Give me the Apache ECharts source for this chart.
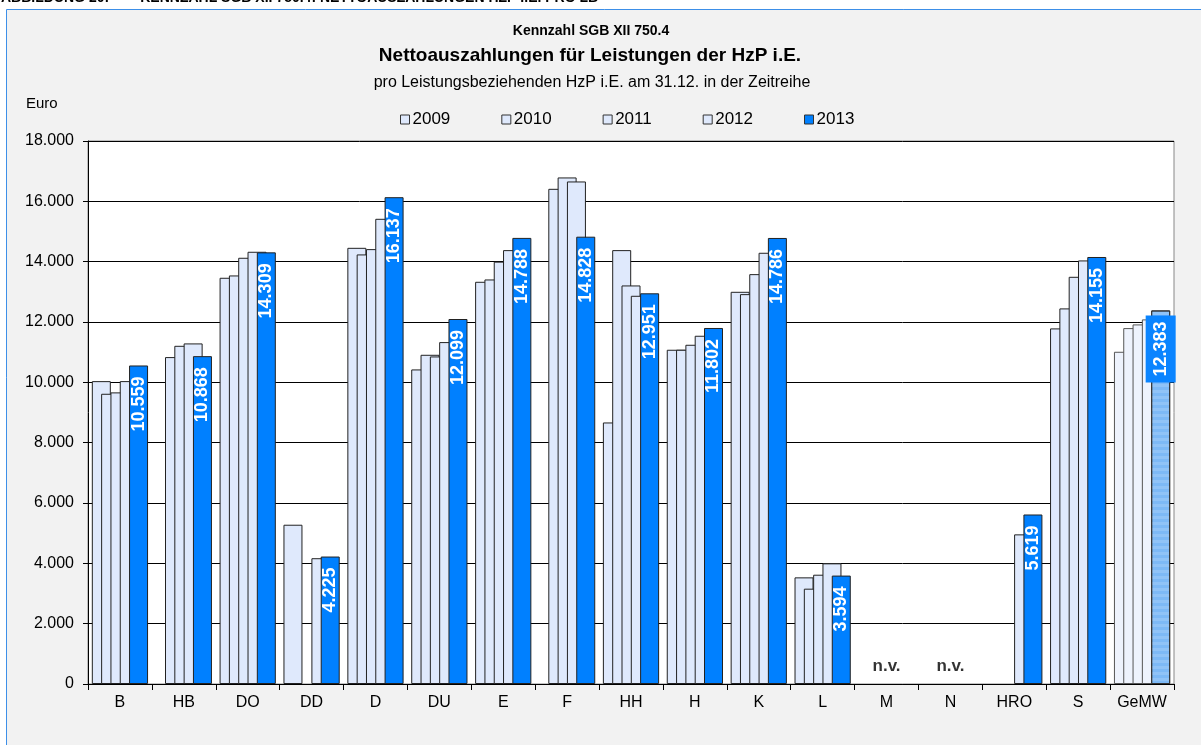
<!DOCTYPE html>
<html>
<head>
<meta charset="utf-8">
<script src="https://cdn.jsdelivr.net/npm/echarts@6/dist/echarts.min.js"></script>
<style>
  html, body { margin: 0; padding: 0; background: #fff; }
  #chart { width: 1201px; height: 745px; }
</style>
</head>
<body>
<div id="chart"></div>
<script>
var regions = ['B', 'HB', 'DO', 'DD', 'D', 'DU', 'E', 'F', 'HH', 'H', 'K', 'L', 'M', 'N', 'HRO', 'S', 'GeMW'];
var years = ['2009', '2010', '2011', '2012', '2013'];

var v2009 = [10040, null, 13466, 5280, 14459, 10428, 13333, null, 8670, 11080, 13001, 3535, null, null, null, 11788, 11013];
var v2010 = [9621, 10837, 13543, null, 14240, 10913, 13410, 16415, 14383, 11080, 12924, 3160, null, null, null, 12451, 11798];
var v2011 = [9667, 11211, 14129, null, 14416, 10858, 14000, 16792, 13212, 11245, 13587, 3623, null, null, null, 13498, 11920];
var v2012 = [10041, 11290, 14328, 4170, 15421, 11334, 14383, 16659, 12869, 11544, 14295, 4000, null, null, 4960, 14041, 12086];
var v2013 = [10559, 10868, 14309, 4225, 16137, 12099, 14788, 14828, 12951, 11802, 14786, 3594, null, null, 5619, 14155, 12383];

var notAvailable = [null, null, null, null, null, null, null, null, null, null, null, null, 'n.v.', 'n.v.', null, null, null];

var yTicks = { min: 0, max: 18000, interval: 2000 };

function fmt(v) {
    return String(Math.round(v)).replace(/\B(?=(\d{3})+(?!\d))/g, '.');
}

var lightColor = '#dfe9fc';
var darkColor = '#0080ff';

function buildData(values, isLast) {
    return values.map(function (v, i) {
        if (regions[i] !== 'GeMW') return v;
        if (!isLast) {
            return { value: v, itemStyle: { color: '#eef3fd', borderColor: '#555' } };
        }
        return {
            value: v,
            itemStyle: {
                color: '#7db9f6',
                borderColor: '#333',
                decal: { symbol: 'rect', dashArrayX: [1, 0], dashArrayY: [3, 3], color: 'rgba(255,255,255,0.15)', rotation: 0 }
            },
            label: { backgroundColor: '#0a84ff', padding: [6, 6, 6, 6], distance: 5 }
        };
    });
}

var allValues = [v2009, v2010, v2011, v2012, v2013];
var series = years.map(function (y, idx) {
    var isLast = idx === years.length - 1;
    var s = {
        name: y,
        type: 'bar',
        barWidth: 19,
        barGap: '-51%',
        data: buildData(allValues[idx], isLast),
        itemStyle: {
            color: isLast ? darkColor : lightColor,
            borderColor: '#222',
            borderWidth: 1
        }
    };
    if (isLast) {
        s.label = {
            show: true,
            position: 'insideTop',
            rotate: 90,
            align: 'right',
            verticalAlign: 'middle',
            distance: 11,
            color: '#fff',
            fontFamily: 'Liberation Sans, Arial',
            fontWeight: 'bold',
            fontSize: 18,
            formatter: function (p) { return fmt(p.value); }
        };
    }
    return s;
});

series.push({
    name: 'nv',
    type: 'scatter',
    symbolSize: 0,
    data: notAvailable.map(function (t) { return t ? 0 : null; }),
    label: {
        show: true,
        position: 'top',
        distance: 9,
        color: '#000',
        fontFamily: 'Liberation Sans, Arial',
        fontWeight: 'bold',
        fontSize: 17,
        formatter: function (p) { return notAvailable[p.dataIndex]; }
    },
    silent: true,
    z: 5
});

var myChart = echarts.init(document.getElementById('chart'));
var option = {
    animation: false,
    textStyle: { fontFamily: 'Liberation Sans, Arial' },
    graphic: [
        {
            type: 'text', left: 1, top: -9,
            style: { text: 'ABBILDUNG 20:        KENNZAHL SGB XII 750.4: NETTOAUSZAHLUNGEN HZP I.E. PRO LB', font: 'bold 14px Liberation Sans', fill: '#000' }
        },
        {
            type: 'rect', left: 6, top: 9, z: -10,
            shape: { width: 1210, height: 750 },
            style: { fill: '#f2f2f2', stroke: '#3d8fe8', lineWidth: 1 }
        },
        {
            type: 'text', left: 26, top: 96,
            style: { text: 'Euro', font: '15px Liberation Sans', fill: '#000' }
        }
    ],
    title: [
        {
            text: 'Kennzahl SGB XII 750.4', left: 586, top: 19, textAlign: 'center',
            textStyle: { fontSize: 14, fontWeight: 'bold', color: '#000', fontFamily: 'Liberation Sans' }
        },
        {
            text: 'Nettoauszahlungen für Leistungen der HzP i.E.', left: 585, top: 41, textAlign: 'center',
            textStyle: { fontSize: 19, fontWeight: 'bold', color: '#000', fontFamily: 'Liberation Sans' }
        },
        {
            text: 'pro Leistungsbeziehenden HzP i.E. am 31.12. in der Zeitreihe', left: 587, top: 70, textAlign: 'center',
            textStyle: { fontSize: 16, fontWeight: 'normal', color: '#000', fontFamily: 'Liberation Sans' }
        }
    ],
    legend: {
        data: years,
        left: 395,
        top: 106,
        icon: 'rect',
        itemWidth: 9,
        itemHeight: 9,
        itemGap: 51,
        textStyle: { fontSize: 17, color: '#000', padding: [0, 0, 0, -2] },
        itemStyle: { borderColor: '#333', borderWidth: 1 }
    },
    grid: {
        left: 88,
        right: 27,
        top: 141,
        bottom: 61,
        show: true,
        backgroundColor: '#fff',
        borderColor: '#888',
        borderWidth: 1
    },
    xAxis: {
        type: 'category',
        data: regions,
        axisLine: { lineStyle: { color: '#000', width: 1 } },
        axisTick: { show: true, interval: 0, length: 6, lineStyle: { color: '#000' } },
        axisLabel: { interval: 0, color: '#000', fontSize: 16, margin: 11 }
    },
    yAxis: {
        type: 'value',
        min: yTicks.min,
        max: yTicks.max,
        interval: yTicks.interval,
        axisLine: { show: true, lineStyle: { color: '#000' } },
        axisTick: { show: true, length: 5, lineStyle: { color: '#000' } },
        axisLabel: { color: '#000', fontSize: 16, margin: 14, formatter: function (v) { return fmt(v); } },
        splitLine: { show: true, lineStyle: { color: '#000', width: 1 } }
    },
    series: series
};
myChart.setOption(option);
</script>
</body>
</html>
